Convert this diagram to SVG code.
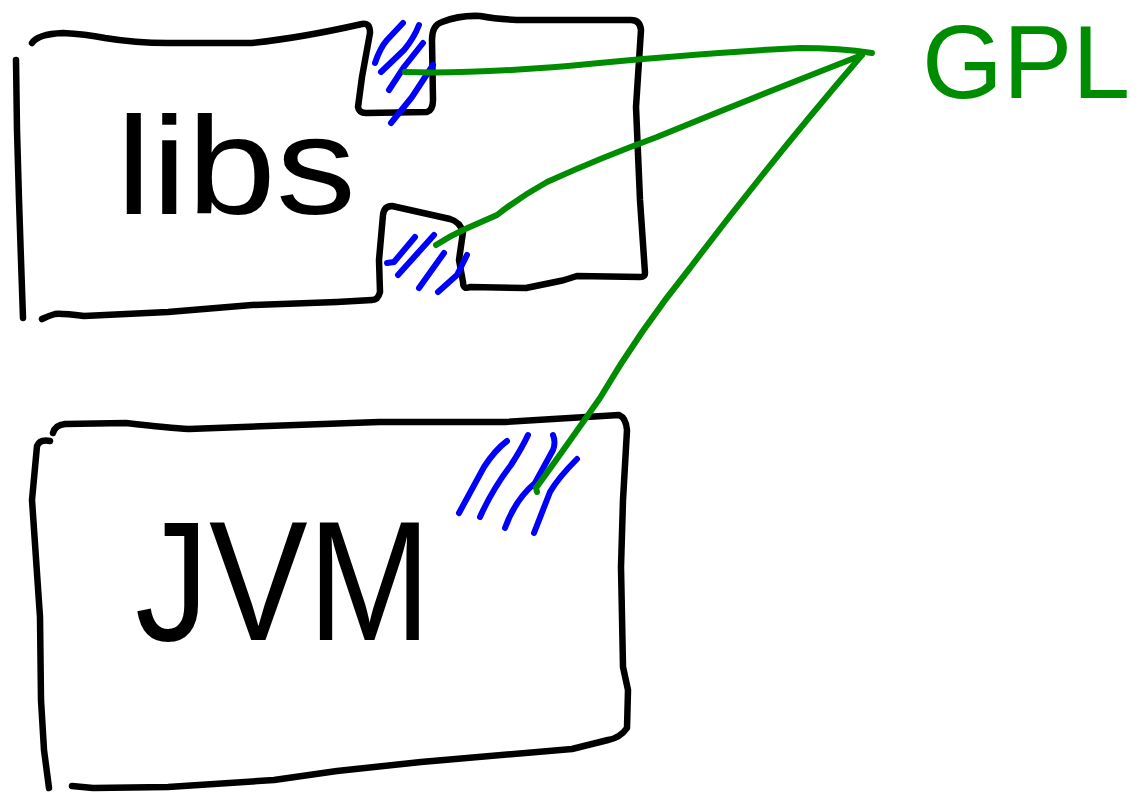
<svg xmlns="http://www.w3.org/2000/svg" width="1146" height="794" viewBox="0 0 1146 794">
<style>
.ink{fill:none;stroke:#000;stroke-width:6.5;stroke-linecap:round;stroke-linejoin:round}
.hatch{fill:none;stroke:#0000ff;stroke-width:6;stroke-linecap:round;stroke-linejoin:round}
.wire{fill:none;stroke:#008c00;stroke-width:6;stroke-linecap:round;stroke-linejoin:round}
.lbl{font-family:"Liberation Sans",Arial,sans-serif;font-weight:normal}
</style>
<rect width="1146" height="794" fill="#fff"/>
<g id="libs">
<path class="ink" d="M16,60 L17,130 L19,200 L21,260 L23,318"/>
<path class="ink" d="M32,43 Q38,34 63,33 Q85,34 105,38 Q135,43 168,43 L252,43 Q300,38 362,24 Q370,22 370,33 L362,77 L358,107 Q359,113 366,113 L427,112 Q433,110 433,100 L432,40 Q432,25 442,22 Q460,15 480,16 Q500,20 526,20 L631,20 Q640,20 641,30 L636,107 L640,200 L645,273 Q645,277 640,277 L577,276 Q565,280 560,281 L526,288 L470,287 Q463,290 463,282 L459,260 L463,232 Q460,222 450,219 L392,206 Q384,206 383,215 L379,260 L380,292 Q378,300 372,300 L337,302 L252,305 L168,312 L84,316 Q60,313 55,314 Q48,316 42,319"/>
<text class="lbl" x="116" y="214" font-size="140" textLength="240" lengthAdjust="spacingAndGlyphs" fill="#000">libs</text>
</g>
<g id="jvm">
<path class="ink" d="M50,441 Q40,439 37,446 L32,500 L40,617 L41,700 L44,750 L49,788"/>
<path class="ink" d="M53,433 Q55,425 65,424 L126,423 Q170,428 189,429 L379,422 L505,422 L619,415 Q626,418 627,430 L623,500 L621,567 L623,667 L628,690 L627,728 Q620,738 608,740 L572,749 L421,762 L337,771 L274,780 L168,787 L93,788 L72,786"/>
<text class="lbl" x="135" y="640" font-size="170" textLength="296" lengthAdjust="spacingAndGlyphs" fill="#000">JVM</text>
</g>
<g id="gpl">
<text class="lbl" x="922" y="98" font-size="104" fill="#008c00">GPL</text>
</g>
<g id="hatches">
<path class="hatch" d="M375,63 Q380,48 387,40 L403,23"/>
<path class="hatch" d="M381,72 L404,50 Q414,38 419,25"/>
<path class="hatch" d="M389,90 L404,67 L423,43"/>
<path class="hatch" d="M391,123 L412,97 L433,65"/>
<path class="hatch" d="M387,263 L394,262 L415,237"/>
<path class="hatch" d="M398,275 L434,235"/>
<path class="hatch" d="M419,288 L444,253"/>
<path class="hatch" d="M438,292 L457,275 L467,255"/>
<path class="hatch" d="M459,513 L484,467 Q495,450 507,441"/>
<path class="hatch" d="M480,517 Q492,490 511,465 Q522,448 528,435"/>
<path class="hatch" d="M505,528 Q515,500 535,483 L553,450 Q556,442 553,435"/>
<path class="hatch" d="M534,533 L550,492 Q558,478 577,459"/>
</g>
<g id="connectors">
<path class="wire" d="M405,72 Q470,74 568,66 Q700,53 800,48 Q840,48 872,53"/>
<path class="wire" d="M436,245 Q450,236 463,230 L497,215 Q520,197 547,182 Q600,158 657,137 Q760,95 862,55"/>
<path class="wire" d="M537,492 L536,488 Q560,455 600,398 Q640,330 690,268 Q770,162 862,55"/>
</g>
</svg>
